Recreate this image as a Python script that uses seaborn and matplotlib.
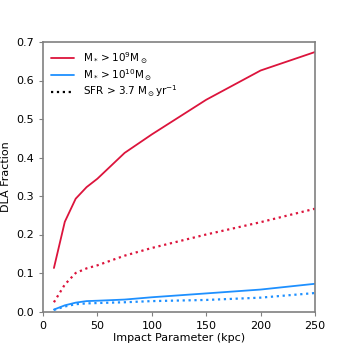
import matplotlib
matplotlib.use("Agg")
import matplotlib.pyplot as plt
import numpy as np
import seaborn as sns

impact_kpc = [10, 20, 30, 40, 50, 75, 100, 150, 200, 250]
mass9_frac = [0.113, 0.233, 0.293, 0.323, 0.345, 0.412, 0.460, 0.550, 0.626, 0.674]
mass9_sfr_frac = [0.024, 0.070, 0.100, 0.112, 0.120, 0.145, 0.165, 0.200, 0.232, 0.267]
mass10_frac = [0.005, 0.016, 0.023, 0.027, 0.028, 0.031, 0.037, 0.047, 0.057, 0.072]
mass10_sfr_frac = [0.004, 0.013, 0.019, 0.021, 0.022, 0.024, 0.027, 0.030, 0.036, 0.048]

red = "#DC143C"
blue = "#1E90FF"

sns.set_style("ticks")
plt.rcParams["font.family"] = ["DejaVu Sans"]
plt.rcParams["font.size"] = 8
plt.rcParams["text.color"] = "black"
plt.rcParams["axes.labelcolor"] = "black"
plt.rcParams["xtick.labelcolor"] = "black"
plt.rcParams["ytick.labelcolor"] = "black"

fig, ax = plt.subplots(figsize=(3.5, 3.5), dpi=100)
fig.subplots_adjust(left=0.123, right=0.9, bottom=0.11, top=0.88)

sns.lineplot(x=impact_kpc, y=mass9_frac, color=red, lw=1.3, ax=ax,
             label=r"M$_*>10^9$M$_\odot$")
sns.lineplot(x=impact_kpc, y=mass10_frac, color=blue, lw=1.3, ax=ax,
             label=r"M$_*>10^{10}$M$_\odot$")
sns.lineplot(x=impact_kpc, y=mass9_sfr_frac, color=red, lw=1.6, ls=":", ax=ax)
sns.lineplot(x=impact_kpc, y=mass10_sfr_frac, color=blue, lw=1.6, ls=":", ax=ax)
ax.plot([], [], color="black", lw=1.6, ls=":",
        label=r"SFR > 3.7 M$_\odot$yr$^{-1}$")

ax.set_xlim(0, 250)
ax.set_ylim(0, 0.7)
ax.set_xticks([0, 50, 100, 150, 200, 250])
ax.set_yticks(np.arange(0, 0.71, 0.1))
ax.set_xlabel("Impact Parameter (kpc)", fontsize=8, labelpad=2)
ax.set_ylabel("DLA Fraction", fontsize=8, labelpad=4)
ax.tick_params(labelsize=8, length=3, color="grey")
for s in ax.spines.values():
    s.set_color("grey")
    s.set_linewidth(1.2)

ax.legend(loc="upper left", frameon=False, fontsize=7.5, handlelength=2.2,
          labelspacing=0.1, borderaxespad=0.4)

fig.savefig("out.png", dpi=100)
